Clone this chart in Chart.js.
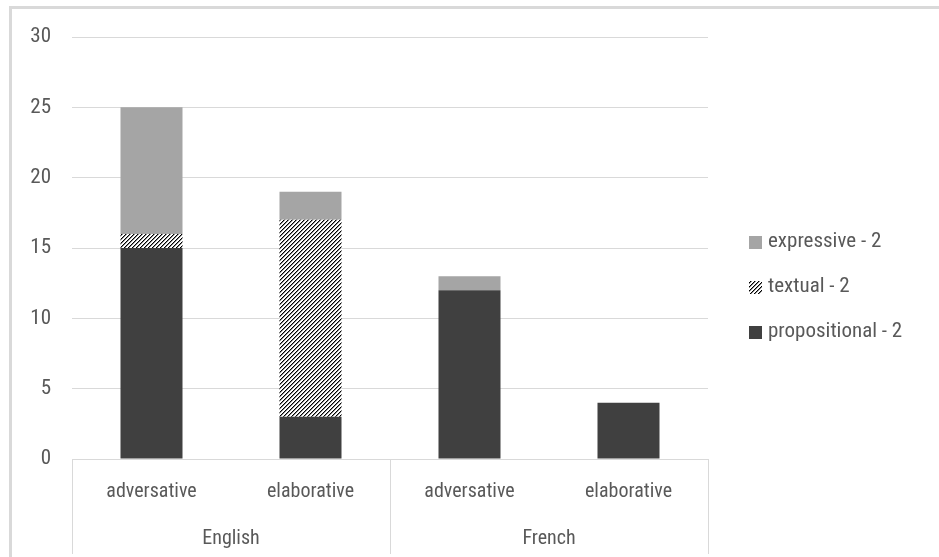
<!DOCTYPE html>
<html>
<head>
<meta charset="utf-8">
<script src="https://cdn.jsdelivr.net/npm/chart.js@4"></script>
<style>
  html, body { margin: 0; padding: 0; background: #fff; }
  #wrap { width: 939px; height: 557px; position: relative; }
</style>
</head>
<body>
<div id="wrap"><canvas id="chart" width="939" height="557"></canvas></div>
<script>
const categories = ['adversative', 'elaborative', 'adversative', 'elaborative'];
const groups = ['English', 'French'];
const propositional = [15, 3, 12, 4];
const textual = [1, 14, 0, 0];
const expressive = [9, 2, 1, 0];
const yTicks = { min: 0, max: 30, step: 5 };

const FONT = "'Liberation Sans Narrow', 'Roboto Condensed', 'DejaVu Sans Condensed', sans-serif";
const TEXT = '#595959';
const GRID = '#d9d9d9';

function hatch() {
    const n = 4;
    const c = document.createElement('canvas');
    c.width = n; c.height = n;
    const g = c.getContext('2d');
    g.fillStyle = '#fff';
    g.fillRect(0, 0, n, n);
    // diagonal "/" lines, 1px black with a softer edge
    for (let i = 0; i < n; i++) {
        g.fillStyle = '#000';
        g.fillRect((n - 1 - i) % n, i, 1, 1);
        g.fillStyle = '#8c8c8c';
        g.fillRect((n - i) % n, i, 1, 1);
    }
    return g.createPattern(c, 'repeat');
}
const hatchFill = hatch();

// frame, two-level category axis and legend
const decor = {
    id: 'decor',
    beforeDraw(chart) {
        const ctx = chart.ctx;
        ctx.save();
        ctx.fillStyle = GRID;
        ctx.fillRect(9, 6, 939, 3);
        ctx.fillRect(9, 6, 3, 551);
        ctx.restore();
    },
    afterDraw(chart) {
        const ctx = chart.ctx;
        const x = chart.scales.x;
        const area = chart.chartArea;
        const step = x.getPixelForValue(1) - x.getPixelForValue(0);
        const per = categories.length / groups.length;
        ctx.save();
        ctx.strokeStyle = GRID;
        ctx.lineWidth = 1;
        for (let g = 0; g <= groups.length; g++) {
            const px = Math.round(x.getPixelForValue(g * per) - step / 2) + 0.5;
            ctx.beginPath();
            ctx.moveTo(px, area.bottom);
            ctx.lineTo(px, 554);
            ctx.stroke();
        }
        ctx.fillStyle = TEXT;
        ctx.font = '20px ' + FONT;
        ctx.textAlign = 'center';
        ctx.textBaseline = 'middle';
        groups.forEach((name, g) => {
            const mid = (x.getPixelForValue(g * per) + x.getPixelForValue(g * per + per - 1)) / 2;
            ctx.fillText(name, mid, 539);
        });

        // legend, top item = last dataset
        const sets = chart.data.datasets.slice().reverse();
        ctx.textAlign = 'left';
        ctx.font = '21px ' + FONT;
        sets.forEach((ds, i) => {
            const cy = 242 + i * 45;
            ctx.fillStyle = ds.backgroundColor;
            ctx.fillRect(749, cy - 6, 13, 13);
            ctx.fillStyle = TEXT;
            ctx.fillText(ds.label, 768, cy);
        });
        ctx.restore();
    }
};

new Chart(document.getElementById('chart'), {
    type: 'bar',
    data: {
        labels: categories,
        datasets: [
            { label: 'propositional - 2', data: propositional, backgroundColor: '#404040' },
            { label: 'textual - 2', data: textual, backgroundColor: hatchFill },
            { label: 'expressive - 2', data: expressive, backgroundColor: '#a5a5a5' }
        ]
    },
    options: {
        responsive: false,
        animation: false,
        events: [],
        datasets: {
            bar: { categoryPercentage: 1, barPercentage: 0.39, borderWidth: 0 }
        },
        layout: { padding: { top: 37, left: 12, right: 231, bottom: 0 } },
        plugins: {
            tooltip: { enabled: false },
            legend: { display: false }
        },
        scales: {
            x: {
                stacked: true,
                grid: { display: false, drawTicks: false },
                border: { display: true, color: GRID },
                ticks: { color: TEXT, font: { family: FONT, size: 20 }, padding: 21, maxRotation: 0 },
                afterFit(s) { s.height = 98; }
            },
            y: {
                stacked: true,
                min: yTicks.min,
                max: yTicks.max,
                ticks: { stepSize: yTicks.step, color: TEXT, font: { family: FONT, size: 21 }, padding: 21 },
                grid: { color: GRID, drawTicks: false },
                border: { display: false },
                afterFit(s) { s.width = 60; }
            }
        }
    },
    plugins: [decor]
});
</script>
</body>
</html>
